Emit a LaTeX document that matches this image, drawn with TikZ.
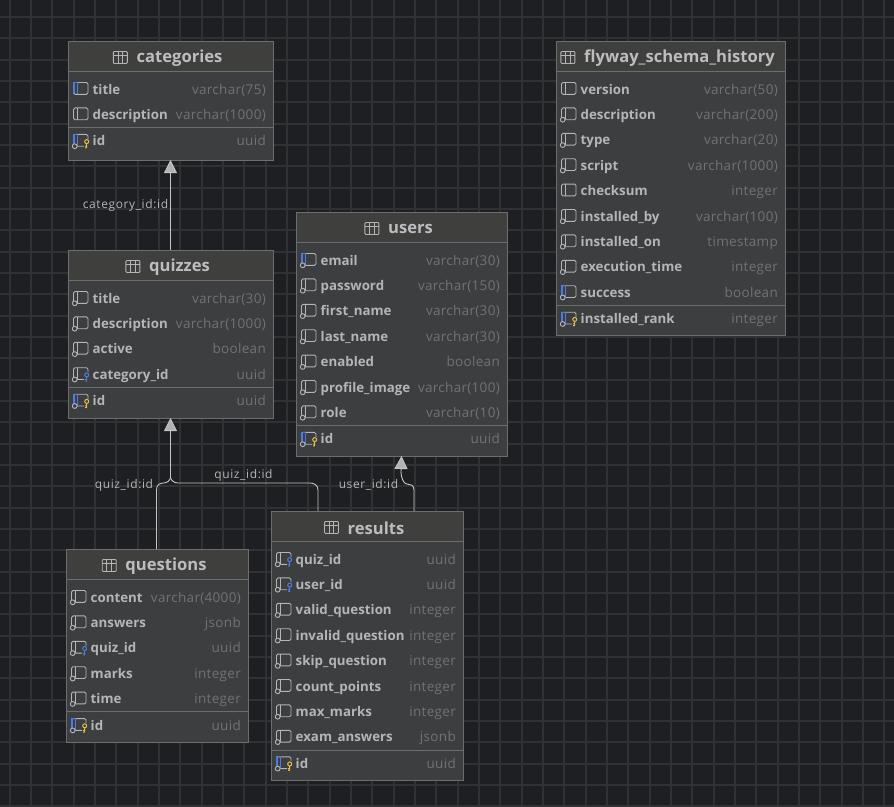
\documentclass[tikz,border=0pt]{standalone}
\usepackage{fontspec}
\setmainfont{Open Sans}
\usetikzlibrary{arrows.meta}
\definecolor{canvas}{HTML}{1E1F22}
\definecolor{gridline}{HTML}{303132}
\definecolor{tablebg}{HTML}{3D3E40}
\definecolor{headbg}{HTML}{3F3F3E}
\definecolor{tableline}{HTML}{6C6D6F}
\definecolor{namecol}{HTML}{B4B5B7}
\definecolor{typecol}{HTML}{707274}
\definecolor{headcol}{HTML}{BCBDBF}
\definecolor{iconcol}{HTML}{B4B5B7}
\definecolor{indexblue}{HTML}{4F7BDC}
\definecolor{keygold}{HTML}{E9BC4D}
\definecolor{linkcol}{HTML}{C6C6C6}
\tikzset{
  tablebox/.style={draw=tableline,fill=tablebg,line width=1pt,anchor=north west,inner sep=0pt,outer sep=0pt},
  headbox/.style={fill=headbg,anchor=north west,inner sep=0pt,outer sep=0pt},
  headtext/.style={text=headcol,font=\fontsize{16.6}{19}\selectfont\bfseries,inner sep=0pt},
  colname/.style={text=namecol,font=\fontsize{13.3}{16}\selectfont\bfseries,anchor=base west,inner sep=0pt},
  coltype/.style={text=typecol,font=\fontsize{13.5}{16}\selectfont\addfontfeature{LetterSpace=2.3},anchor=base east,inner sep=0pt},
  iconline/.style={draw=iconcol,line width=0.9pt},
  fklink/.style={draw=linkcol,line width=0.9pt},
  fktip/.style={fklink,-{Triangle[width=13pt,length=13pt,fill=linkcol!90!black]}},
  linklabel/.style={text=namecol,font=\fontsize{12}{14}\selectfont\addfontfeature{LetterSpace=5},inner sep=0pt}
}
% small icons, centred on the current origin
\newcommand{\iconbox}{\draw[iconline,rounded corners=1.5pt] (-7,-6.5) rectangle (7.5,5.3); \draw[iconline] (-2.8,-6.5) -- (-2.8,5.3);}
\newcommand{\iconbar}{\fill[indexblue] (-7.6,-6.9) rectangle (-5.8,4); \draw[indexblue,line width=0.9pt] (-6.5,-6.5) -- (-2.8,-6.5) -- (-2.8,5.3);}
\newcommand{\iconring}{\draw[iconcol,fill=tablebg,line width=0.9pt] (-5.8,5.3) circle (2.4);}
\newcommand{\iconkey}[1]{\fill[tablebg] (3.6,-2.2) rectangle (8.4,7); \draw[#1,line width=1pt] (6.2,0.7) circle (2) (6.2,2.7) -- (6.2,7.2) (6.2,5.2) -- (4.3,5.2) (6.2,7) -- (4.5,7);}
\newcommand{\iconp}{\iconbox}
\newcommand{\iconn}{\iconbox\iconring}
\newcommand{\iconb}{\iconbox\iconbar}
\newcommand{\iconc}{\iconbox\iconbar\iconring}
\newcommand{\iconf}{\iconbox\iconkey{indexblue}\iconring}
\newcommand{\iconk}{\iconbox\iconbar\iconkey{keygold}\iconring}
\newcommand{\headicon}{\draw[iconline,rounded corners=1pt] (-7,-6) rectangle (7,6); \draw[iconline] (-7,-2.5) -- (7,-2.5) (-2.4,-6) -- (-2.4,6) (2.4,-6) -- (2.4,6);}
% name, left, top, right, bottom, title, columns, key column
\newcommand{\dbtable}[8]{
  \pgfmathsetmacro{\tw}{#4-#2}
  \pgfmathsetmacro{\th}{#5-#3}
  \pgfmathsetmacro{\tc}{(#2+#4)/2-2.5}
  \node[tablebox,minimum width=\tw pt,minimum height=\th pt] (#1) at (#2,#3) {};
  \node[headbox,minimum width=\tw pt-1pt,minimum height=29pt] (#1-head) at (#2+0.5,#3+0.5) {};
  \draw[tableline] (#2,#3+30) -- (#4,#3+30);
  \node[headtext] (#1-title) at (\tc,#3+17) {\hspace*{23pt}#6};
  \begin{scope}[shift={([xshift=7pt,yshift=0.5pt]#1-title.west)}] \headicon \end{scope}
  \foreach \ic/\cn/\ct [count=\i from 0] in {#7}{
    \pgfmathsetmacro{\ry}{#3+48+25.4*\i}
    \xdef\lastry{\ry}
    \begin{scope}[shift={(#2+12.5,\ry)}] \csname icon\ic\endcsname \end{scope}
    \node[colname] (#1-name-\i) at (#2+24.5,\ry+5) {\cn};
    \node[coltype] (#1-type-\i) at (#4-7,\ry+5) {\ct};
  }
  \draw[tableline] (#2,\lastry+13) -- (#4,\lastry+13);
  \foreach \ic/\cn/\ct in {#8}{
    \begin{scope}[shift={(#2+12.5,\lastry+26.5)}] \csname icon\ic\endcsname \end{scope}
    \node[colname] (#1-keyname) at (#2+24.5,\lastry+31.5) {\cn};
    \node[coltype] (#1-keytype) at (#4-7,\lastry+31.5) {\ct};
  }
}
\begin{document}
\begin{tikzpicture}[x=1pt,y=-1pt]
  \useasboundingbox (0,0) rectangle (894,806);
  \fill[canvas] (0,0) rectangle (894,806);
  \foreach \i in {0,...,41} \draw[gridline,line width=2pt] (9.7+21.33*\i,0) -- (9.7+21.33*\i,806);
  \foreach \i in {0,...,37} \draw[gridline,line width=2pt] (0,17+21.33*\i) -- (894,17+21.33*\i);

  \dbtable{categories}{68}{41}{273}{160}{categories}
    {b/title/varchar(75),p/description/varchar(1000)}{k/id/uuid}
  \dbtable{quizzes}{68}{250}{273}{418}{quizzes}
    {n/title/varchar(30),n/description/varchar(1000),n/active/boolean,f/category\_id/uuid}{k/id/uuid}
  \dbtable{users}{296}{212}{507}{456}{users}
    {c/email/varchar(30),n/password/varchar(150),n/first\_name/varchar(30),n/last\_name/varchar(30),n/enabled/boolean,n/profile\_image/varchar(100),n/role/varchar(10)}{k/id/uuid}
  \dbtable{flyway}{556}{41}{785}{335}{flyway\_schema\_history}
    {p/version/varchar(50),n/description/varchar(200),n/type/varchar(20),n/script/varchar(1000),p/checksum/integer,n/installed\_by/varchar(100),n/installed\_on/timestamp,n/execution\_time/integer,c/success/boolean}{k/installed\_rank/integer}
  \dbtable{questions}{66}{549}{248}{742}{questions}
    {n/content/varchar(4000),n/answers/jsonb,f/quiz\_id/uuid,n/marks/integer,n/time/integer}{k/id/uuid}
  \dbtable{results}{271}{511}{463}{780}{results}
    {f/quiz\_id/uuid,f/user\_id/uuid,n/valid\_question/integer,n/invalid\_question/integer,n/skip\_question/integer,n/count\_points/integer,n/max\_marks/integer,n/exam\_answers/jsonb}{k/id/uuid}

  \draw[fktip] (quizzes.north) -- (categories.south);
  \draw[fklink] ([xshift=-0.5pt]questions.north) -- ++(0,-59) .. controls ++(0,-5) and ++(-4,0) .. ++(7,-7) .. controls ++(4,0) and ++(0,3) .. ++(7,-6) coordinate (quizjoin);
  \draw[fklink] ([xshift=-49pt]results.north) -- ++(0,-21) .. controls ++(0,-5) and ++(4,0) .. ++(-8,-7) -- (178,483) .. controls ++(-4,0) and ++(0,3) .. (quizjoin);
  \draw[fktip] (quizjoin) -- (quizzes.south);
  \draw[fklink] ([xshift=47pt]results.north) -- ++(0,-21) .. controls ++(0,-5) and ++(3,0) .. ++(-7,-6) .. controls ++(-4,0) and ++(0,4) .. ++(-6,-12) coordinate (userjoin);
  \draw[fktip] (userjoin) -- (users.south);

  \node[linklabel] (catlabel) at (125.5,205) {category\_id:id};
  \node[linklabel] (quizlabel) at (124,485) {quiz\_id:id};
  \node[linklabel] (resquizlabel) at (243.5,475) {quiz\_id:id};
  \node[linklabel] (reslabel) at (368.5,485) {user\_id:id};
\end{tikzpicture}
\end{document}
